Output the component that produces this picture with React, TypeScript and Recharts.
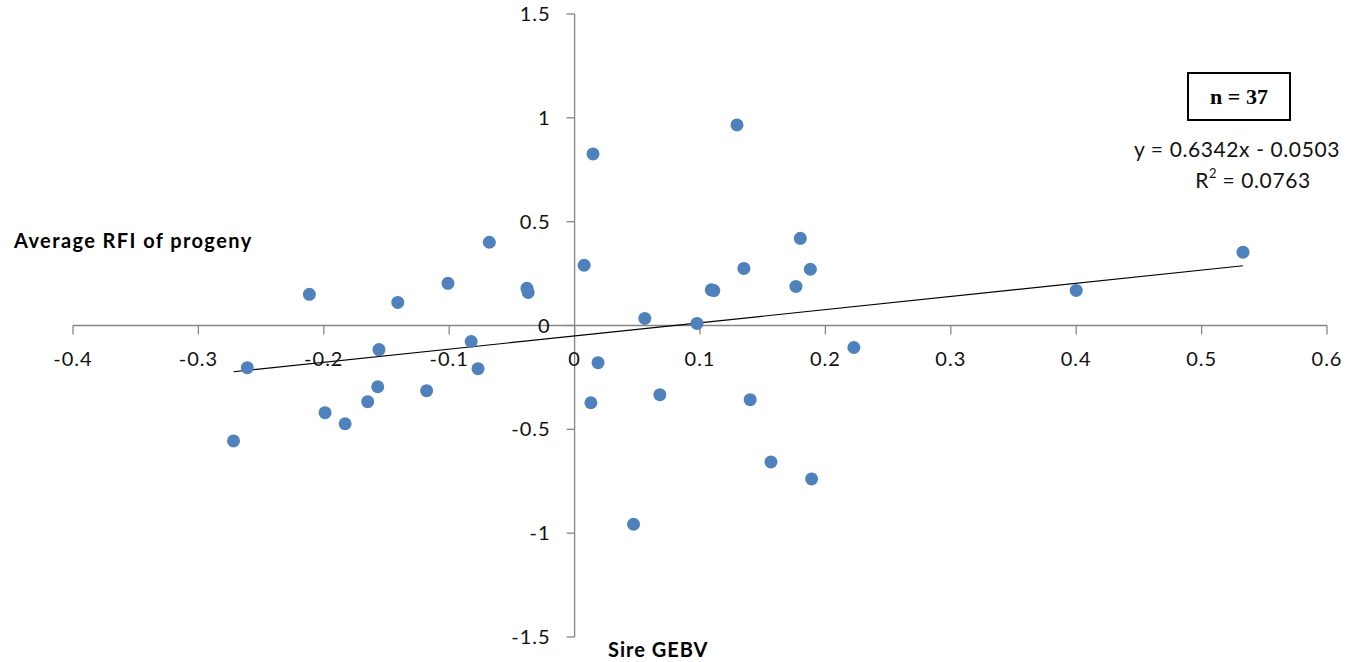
import React from 'react';
import { ReferenceLine, Scatter, ScatterChart, XAxis, YAxis } from 'recharts';

// sire genomic breeding values (x) and progeny average RFI (y)
const sireGebv = [
  -0.272, -0.261, -0.2115, -0.199, -0.183, -0.165, -0.157, -0.156, -0.141, -0.118,
  -0.101, -0.0825, -0.077, -0.068, -0.038, -0.037, 0.0076, 0.013, 0.0147, 0.0187,
  0.047, 0.056, 0.068, 0.0976, 0.109, 0.111, 0.1295, 0.135, 0.14, 0.1566,
  0.1765, 0.18, 0.188, 0.189, 0.2227, 0.4, 0.533,
];
const avgRfi = [
  -0.556, -0.203, 0.15, -0.42, -0.473, -0.367, -0.295, -0.116, 0.111, -0.314,
  0.203, -0.077, -0.208, 0.401, 0.179, 0.159, 0.29, -0.372, 0.826, -0.179,
  -0.957, 0.034, -0.333, 0.01, 0.172, 0.168, 0.966, 0.275, -0.357, -0.657,
  0.188, 0.42, 0.271, -0.739, -0.106, 0.169, 0.353,
];

const xTicks = [-0.4, -0.3, -0.2, -0.1, 0, 0.1, 0.2, 0.3, 0.4, 0.5, 0.6];
const xTickLabels = ['-0.4', '-0.3', '-0.2', '-0.1', '0', '0.1', '0.2', '0.3', '0.4', '0.5', '0.6'];
const yTicks = [-1.5, -1, -0.5, 0, 0.5, 1, 1.5];
const yTickLabels = ['-1.5', '-1', '-0.5', '0', '0.5', '1', '1.5'];

const slope = 0.6342;
const intercept = -0.0503;
const rSquared = '0.0763';
const nSires = 37;

const points = sireGebv.map((x, i) => ({ x, y: avgRfi[i] }));
const xMin = Math.min(...sireGebv);
const xMax = Math.max(...sireGebv);

const axisColor = '#868686';
const dotColor = '#4F81BD';
const font = 'Lato, "Open Sans", sans-serif';

const tickFont = { fill: '#111', fontSize: 20, fontFamily: font, letterSpacing: 1 };

const Dot = (props: any) => <circle cx={props.cx} cy={props.cy} r={6.5} fill={dotColor} />;

export default function App() {
  return (
    <div style={{ position: 'relative', width: 1346, height: 662, background: '#fff' }}>
      {/* the chart fills the whole window, so drop the default body margin */}
      <style>{'body { margin: 0; }'}</style>
      <ScatterChart width={1346} height={662} margin={{ top: 14, right: 19, bottom: 25, left: 73 }}>
        <XAxis type="number" dataKey="x" domain={[-0.4, 0.6]} hide allowDataOverflow />
        <YAxis type="number" dataKey="y" domain={[-1.5, 1.5]} hide allowDataOverflow />

        <ReferenceLine y={0} stroke={axisColor} strokeWidth={1.3} />
        <ReferenceLine x={0} stroke={axisColor} strokeWidth={1.3} />

        {xTicks.map((t, i) => (
          <ReferenceLine
            key={'xt' + i}
            segment={[{ x: t, y: 0 }, { x: t, y: -0.043 }]}
            stroke={axisColor}
            strokeWidth={1.3}
            label={{ value: xTickLabels[i], position: 'bottom', offset: 17, ...tickFont }}
          />
        ))}
        {yTicks.map((t, i) => (
          <ReferenceLine
            key={'yt' + i}
            segment={[{ x: -0.0064, y: t }, { x: 0, y: t }]}
            stroke={axisColor}
            strokeWidth={1.3}
            label={{ value: yTickLabels[i], position: 'left', offset: 16, ...tickFont }}
          />
        ))}

        <Scatter data={points} shape={Dot} isAnimationActive={false} />

        <ReferenceLine
          segment={[
            { x: xMin, y: slope * xMin + intercept },
            { x: xMax, y: slope * xMax + intercept },
          ]}
          stroke="#000"
          strokeWidth={1.2}
        />
      </ScatterChart>

      <div
        style={{
          position: 'absolute', left: 14, top: 228, fontFamily: font, fontWeight: 700,
          fontSize: 20, letterSpacing: 1.4, color: '#000', whiteSpace: 'nowrap', lineHeight: '24px',
        }}
      >
        Average RFI of progeny
      </div>
      <div
        style={{
          position: 'absolute', left: 608, top: 637, fontFamily: font, fontWeight: 700,
          fontSize: 20, letterSpacing: 1, color: '#000', whiteSpace: 'nowrap', lineHeight: '24px',
        }}
      >
        Sire GEBV
      </div>

      <div
        style={{
          position: 'absolute', left: 1187, top: 72, width: 100, height: 45,
          border: '2px solid #000', display: 'flex', alignItems: 'center', justifyContent: 'center',
          fontFamily: '"Liberation Serif", serif', fontWeight: 700, fontSize: 22, color: '#000',
        }}
      >
        n = {nSires}
      </div>
      <div
        style={{
          position: 'absolute', left: 1108, width: 258, top: 133, textAlign: 'center',
          fontFamily: font, fontSize: 21, letterSpacing: 0.6, lineHeight: '31px', color: '#111',
        }}
      >
        <div>y = {slope}x - {Math.abs(intercept).toFixed(4)}</div>
        <div style={{ paddingLeft: 32 }}>
          R<sup style={{ fontSize: 13, verticalAlign: 'top', lineHeight: '18px', letterSpacing: 0 }}>2</sup> = {rSquared}
        </div>
      </div>
    </div>
  );
}
